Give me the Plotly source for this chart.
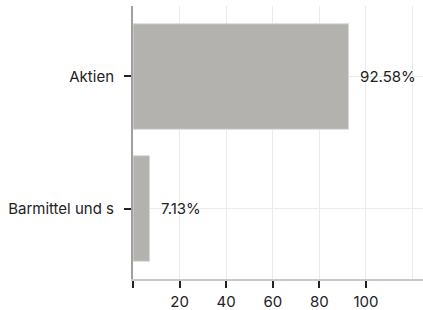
import plotly.graph_objects as go

categories = ["Aktien", "Barmittel und s"]
values = [92.58, 7.13]
tick_vals = [0, 20, 40, 60, 80, 100]
tick_text = ["", "20", "40", "60", "80", "100"]
grid_vals = [20, 40, 60, 80, 100, 120]

fig = go.Figure(go.Bar(
    y=categories, x=values, orientation="h",
    marker=dict(color="#b3b2ae", line=dict(color="#dcdcd8", width=1)),
    width=0.8,
    text=[f"{v:.2f}%" for v in values],
    texttemplate="  %{text}",
    textposition="outside",
    textfont=dict(family="Inter", size=15, color="#222222"),
    cliponaxis=False,
))

fig.update_layout(
    width=423, height=310,
    margin=dict(l=133, r=0, t=6, b=31),
    paper_bgcolor="white", plot_bgcolor="white",
    font=dict(family="Inter", size=15, color="#222222"),
    showlegend=False,
    bargap=0.2,
)
fig.update_xaxes(
    range=[0, 124.5],
    tickvals=tick_vals, ticktext=tick_text,
    ticks="outside", ticklen=7, tickwidth=2, tickcolor="#222222",
    ticklabelstandoff=1,
    showgrid=False, zeroline=False,
    showline=True, linecolor="#c8c8c8", linewidth=2,
    minor=dict(tickvals=grid_vals, showgrid=True, gridcolor="#ebebeb", gridwidth=1, ticks=""),
    fixedrange=True,
)
fig.update_yaxes(
    categoryorder="array", categoryarray=categories[::-1],
    range=[-0.534, 1.534],
    ticks="outside", ticklen=7, tickwidth=2, tickcolor="#222222",
    ticklabelstandoff=7,
    showgrid=True, gridcolor="#ebebeb", gridwidth=1,
    zeroline=False,
    showline=True, linecolor="#a0a0a0", linewidth=2,
    fixedrange=True,
)
fig.write_html(
    "out.html",
    config={"displayModeBar": False},
    post_script="document.body.style.margin='0';document.body.style.overflow='hidden';",
)
